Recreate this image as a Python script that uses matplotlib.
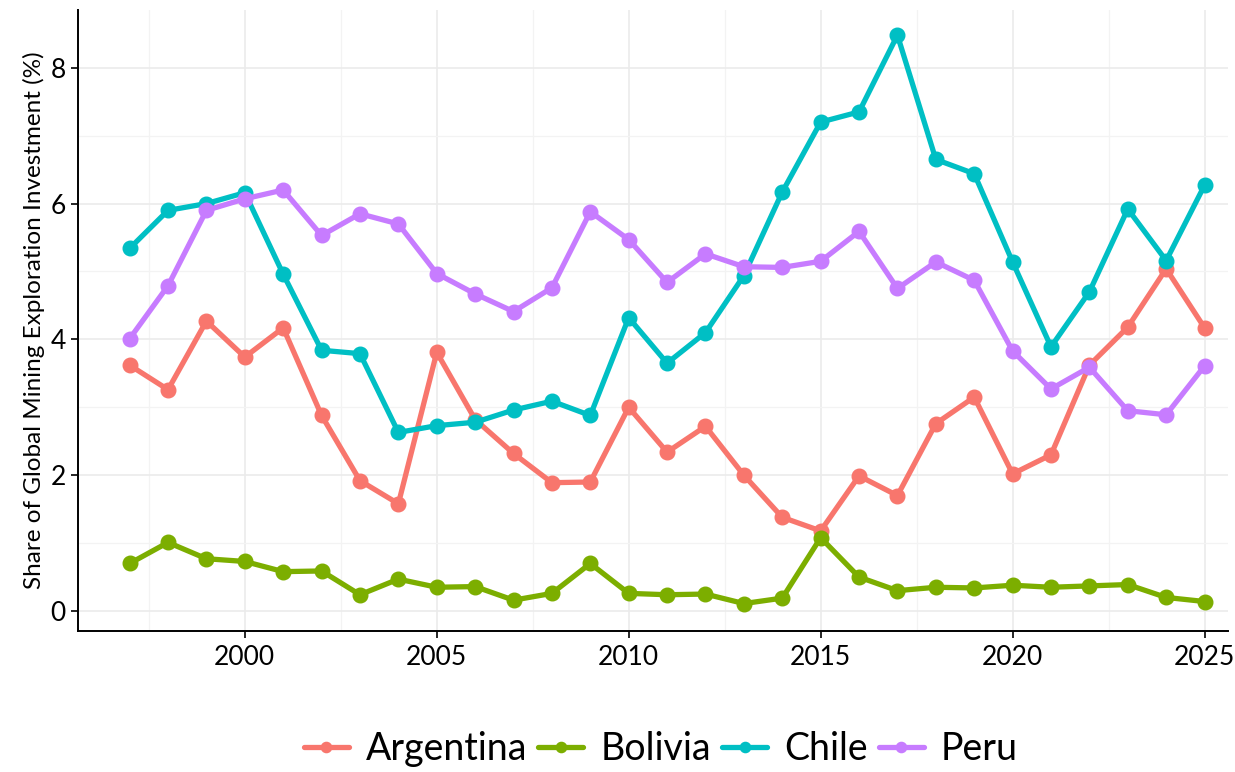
import matplotlib.pyplot as plt
from matplotlib.ticker import MultipleLocator

plt.rcParams['font.family'] = ['Lato', 'DejaVu Sans']

years = list(range(1997, 2026))

argentina = [3.62, 3.26, 4.27, 3.74, 4.17, 2.88, 1.92, 1.58, 3.81, 2.82,
             2.32, 1.89, 1.90, 3.00, 2.34, 2.72, 2.00, 1.38, 1.18, 1.99,
             1.70, 2.76, 3.15, 2.02, 2.30, 3.62, 4.18, 5.04, 4.17]
bolivia = [0.70, 1.01, 0.77, 0.73, 0.58, 0.59, 0.24, 0.47, 0.35, 0.36,
           0.16, 0.26, 0.70, 0.26, 0.24, 0.25, 0.11, 0.19, 1.08, 0.50,
           0.30, 0.35, 0.34, 0.38, 0.35, 0.37, 0.39, 0.20, 0.14]
chile = [5.34, 5.90, 6.00, 6.16, 4.96, 3.84, 3.79, 2.63, 2.73, 2.78,
         2.96, 3.09, 2.88, 4.32, 3.65, 4.10, 4.94, 6.17, 7.20, 7.35,
         8.48, 6.65, 6.44, 5.14, 3.89, 4.70, 5.92, 5.16, 6.27]
peru = [4.01, 4.79, 5.90, 6.07, 6.20, 5.53, 5.85, 5.70, 4.97, 4.67,
        4.41, 4.76, 5.88, 5.47, 4.84, 5.26, 5.07, 5.06, 5.15, 5.59,
        4.75, 5.14, 4.87, 3.83, 3.27, 3.59, 2.95, 2.89, 3.61]

countries = ["Argentina", "Bolivia", "Chile", "Peru"]
series = [argentina, bolivia, chile, peru]
colors = ["#F8766D", "#7CAE00", "#00BFC4", "#C77CFF"]

fig = plt.figure(figsize=(12.35, 7.72), dpi=100)
ax = fig.add_axes([0.063, 0.183, 0.931, 0.804])

for name, vals, c in zip(countries, series, colors):
    ax.plot(years, vals, color=c, lw=3.8, marker='o', markersize=10.5, label=name,
            solid_capstyle='round', solid_joinstyle='round')

ax.set_xlim(1995.65, 2025.6)
ax.set_ylim(-0.29, 8.85)
ax.xaxis.set_major_locator(MultipleLocator(5))
ax.xaxis.set_minor_locator(MultipleLocator(2.5))
ax.yaxis.set_major_locator(MultipleLocator(2))
ax.yaxis.set_minor_locator(MultipleLocator(1))
ax.grid(True, which='major', color='#ebebeb', lw=1.2)
ax.grid(True, which='minor', color='#f3f3f3', lw=0.9)
ax.set_axisbelow(True)
for s in ['top', 'right']:
    ax.spines[s].set_visible(False)
for s in ['left', 'bottom']:
    ax.spines[s].set_linewidth(1.4)
    ax.spines[s].set_color('black')
ax.tick_params(which='major', length=5, width=1.2, labelsize=19, colors='black')
ax.tick_params(axis='x', pad=5)
ax.tick_params(which='minor', length=0)
ax.set_ylabel("Share of Global Mining Exploration Investment (%)", fontsize=17.5, labelpad=4)

leg = fig.legend(loc='center', bbox_to_anchor=(0.535, 0.03), ncol=4, frameon=False,
                 fontsize=27, handlelength=1.2, handletextpad=0.45, columnspacing=0.3,
                 markerscale=0.7)

fig.savefig("out.png", dpi=100)
